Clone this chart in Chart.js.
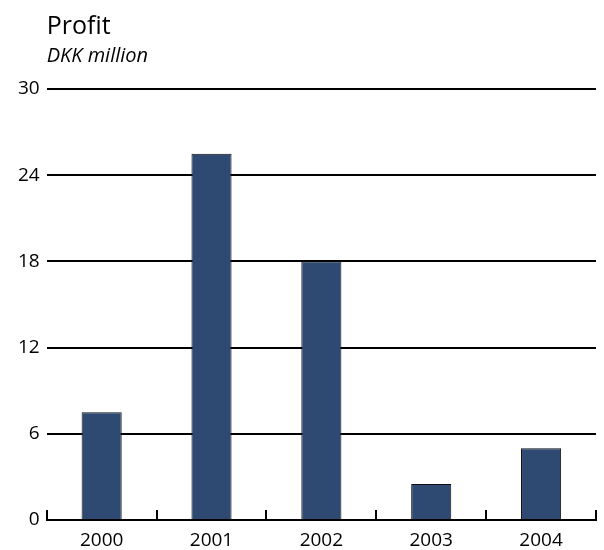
<!DOCTYPE html>
<html>
<head>
<meta charset="utf-8">
<script src="https://cdn.jsdelivr.net/npm/chart.js@4/dist/chart.umd.min.js"></script>
<style>
  body { margin: 0; background: #fff; }
  #wrap { width: 604px; height: 550px; }
</style>
</head>
<body>
<div id="wrap"><canvas id="myChart"></canvas></div>
<script>
// profit per year, DKK million
const years = ["2000", "2001", "2002", "2003", "2004"];
const profit = [7.5, 25.5, 18, 2.5, 5];
const yTicks = [0, 6, 12, 18, 24, 30];

const barColor = "#2e4a72";

// short upward ticks on the x axis at the category boundaries
const boundaryTicks = {
  id: "boundaryTicks",
  afterDatasetsDraw(chart) {
    const x = chart.scales.x;
    const y = chart.scales.y;
    const ctx = chart.ctx;
    const base = y.getPixelForValue(0);
    let xs = [];
    for (let i = 0; i <= years.length; i++) {
      let left = x.getPixelForValue(Math.max(i - 1, 0));
      let right = x.getPixelForValue(Math.min(i, years.length - 1));
      if (i === 0) xs.push(x.left);
      else if (i === years.length) xs.push(x.right);
      else xs.push((left + right) / 2);
    }
    ctx.save();
    ctx.strokeStyle = "#000";
    ctx.lineWidth = 2;
    ctx.beginPath();
    for (let i = 0; i < xs.length; i++) {
      ctx.moveTo(Math.round(xs[i]), base);
      ctx.lineTo(Math.round(xs[i]), base - 10);
    }
    ctx.stroke();
    ctx.restore();
  }
};

new Chart("myChart", {
  type: "bar",
  data: {
    labels: years,
    datasets: [{
      data: profit,
      backgroundColor: barColor,
      borderColor: "#111",
      borderWidth: 1,
      barPercentage: 0.365,
      categoryPercentage: 1
    }]
  },
  options: {
    responsive: true,
    maintainAspectRatio: false,
    animation: false,
    layout: { padding: { left: 11, right: 8, top: 12, bottom: 0 } },
    plugins: {
      legend: { display: false },
      tooltip: { enabled: false },
      title: {
        display: true,
        text: "Profit",
        align: "start",
        fullSize: false,
        color: "#000",
        font: { family: "Open Sans", size: 25, weight: "normal" },
        padding: { top: 0, bottom: 0 }
      },
      subtitle: {
        display: true,
        text: "DKK million",
        align: "start",
        fullSize: false,
        color: "#000",
        font: { family: "Open Sans", size: 20, style: "italic" },
        padding: { top: 2, bottom: 21 }
      }
    },
    scales: {
      x: {
        afterFit(scale) {
          scale.height = 30;
        },
        grid: { display: false, drawTicks: false },
        border: { display: true, color: "#000", width: 2 },
        ticks: {
          color: "#000",
          padding: 9,
          font: { family: "Open Sans", size: 19 }
        }
      },
      y: {
        min: 0,
        max: 30,
        afterBuildTicks(scale) {
          scale.ticks = yTicks.map(v => ({ value: v }));
        },
        grid: { color: "#000", lineWidth: 2, drawTicks: false },
        border: { display: false },
        ticks: {
          color: "#000",
          padding: 7,
          font: { family: "Open Sans", size: 19 }
        }
      }
    }
  },
  plugins: [boundaryTicks]
});
</script>
</body>
</html>
